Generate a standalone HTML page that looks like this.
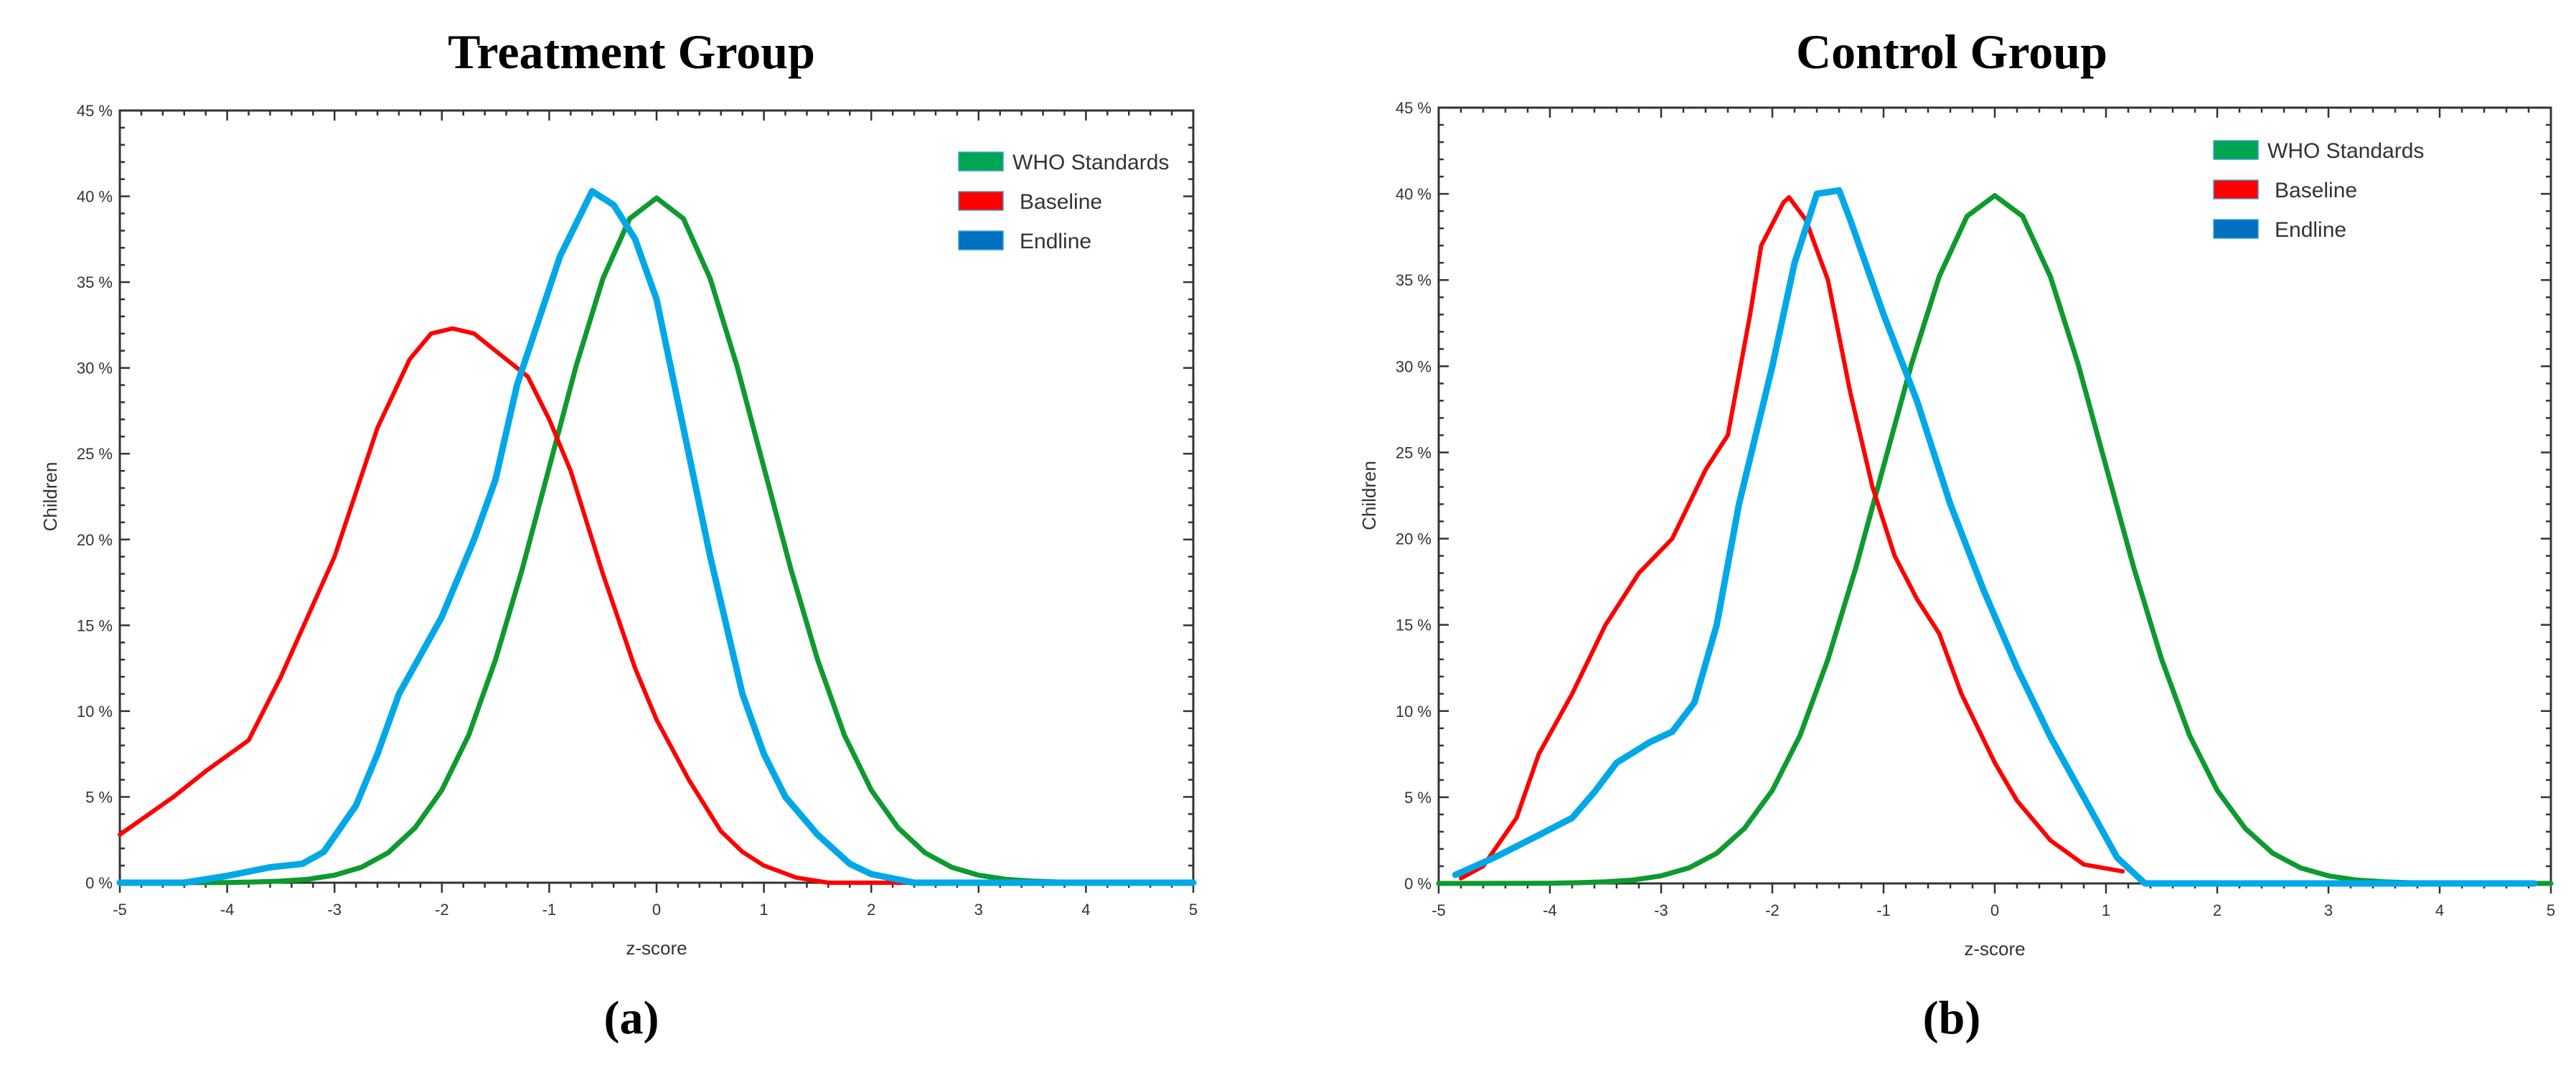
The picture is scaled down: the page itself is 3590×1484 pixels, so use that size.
<!DOCTYPE html>
<html><head><meta charset="utf-8"><style>
html,body{margin:0;padding:0;background:#fff;}
svg{display:block;}
</style></head><body>
<svg id="fig" width="3590" height="1484" viewBox="0 0 3590 1484" xmlns="http://www.w3.org/2000/svg">
<text x="880" y="95" font-family="Liberation Serif, serif" font-weight="bold" font-size="68" text-anchor="middle">Treatment Group</text>
<text x="2720" y="95" font-family="Liberation Serif, serif" font-weight="bold" font-size="68" text-anchor="middle">Control Group</text>
<text x="880" y="1440" font-family="Liberation Serif, serif" font-weight="bold" font-size="66" text-anchor="middle">(a)</text>
<text x="2720" y="1440" font-family="Liberation Serif, serif" font-weight="bold" font-size="66" text-anchor="middle">(b)</text>
<g id="pa"></g>
<g id="pb"></g>
</svg>
<script>
const xTicks=[-5,-4,-3,-2,-1,0,1,2,3,4,5];
const yTicks=[0,5,10,15,20,25,30,35,40,45];
const legendLabels=["WHO Standards","Baseline","Endline"];
const whoX=[-5,-4,-3.75,-3.5,-3.25,-3,-2.75,-2.5,-2.25,-2,-1.75,-1.5,-1.25,-1,-0.75,-0.5,-0.25,0,0.25,0.5,0.75,1,1.25,1.5,1.75,2,2.25,2.5,2.75,3,3.25,3.5,3.75,4,5];
const whoY=[0,0.01,0.04,0.09,0.2,0.44,0.9,1.75,3.2,5.4,8.6,13.0,18.3,24.2,30.1,35.2,38.7,39.9,38.7,35.2,30.1,24.2,18.3,13.0,8.6,5.4,3.2,1.75,0.9,0.44,0.2,0.09,0.04,0.01,0];
const baseAX=[-5,-4.5,-4.2,-3.8,-3.5,-3,-2.6,-2.3,-2.1,-1.9,-1.7,-1.5,-1.2,-1,-0.8,-0.5,-0.2,0,0.3,0.6,0.8,1,1.3,1.6,5];
const baseAY=[2.8,5,6.5,8.3,12,19,26.5,30.5,32,32.3,32,31,29.5,27,24,18,12.5,9.5,6,3,1.8,1,0.3,0,0];
const endAX=[-5,-4.4,-4,-3.6,-3.3,-3.1,-2.8,-2.6,-2.4,-2,-1.7,-1.5,-1.3,-0.9,-0.6,-0.4,-0.2,0,0.2,0.5,0.8,1,1.2,1.5,1.8,2,2.4,5];
const endAY=[0,0,0.4,0.9,1.1,1.8,4.5,7.5,11,15.5,20,23.5,29,36.5,40.3,39.5,37.5,34,28,19,11,7.5,5,2.8,1.1,0.5,0,0];
const baseBX=[-4.8,-4.6,-4.3,-4.1,-3.8,-3.5,-3.2,-2.9,-2.6,-2.4,-2.2,-2.1,-1.9,-1.85,-1.7,-1.5,-1.3,-1.1,-0.9,-0.7,-0.5,-0.3,0,0.2,0.5,0.8,1.15];
const baseBY=[0.3,1,3.8,7.5,11,15,18,20,24,26,33,37,39.5,39.8,38.5,35,28.5,23,19,16.5,14.5,11,7,4.8,2.5,1.1,0.7];
const endBX=[-4.85,-4.5,-4.1,-3.8,-3.6,-3.4,-3.1,-2.9,-2.7,-2.5,-2.3,-2,-1.8,-1.6,-1.4,-1.3,-1,-0.7,-0.4,-0.1,0.2,0.5,0.8,1.1,1.35,4.85];
const endBY=[0.5,1.5,2.8,3.8,5.3,7,8.2,8.8,10.5,15,22,30,36,40,40.2,38.5,33,28,22,17,12.5,8.5,5,1.5,0,0];
const NS="http://www.w3.org/2000/svg";
function mk(tag,attrs,parent){const e=document.createElementNS(NS,tag);for(const k in attrs)e.setAttribute(k,attrs[k]);parent.appendChild(e);return e;}
function chart(g,L,R,T,B,series,lg){
  const sx=v=>L+(v+5)/10*(R-L), sy=v=>B-v/45*(B-T);
  const frame=mk('rect',{x:L,y:T,width:R-L,height:B-T,fill:'none',stroke:'#333','stroke-width':3},g);
  
  
  for(let i=0;i<=50;i++){const v=-5+i*0.2;const len=(i%5==0)?14:7;const x=sx(v);
    const t1=mk('line',{x1:x,y1:B,x2:x,y2:B+len,stroke:'#333','stroke-width':2.5},g);
    
    const t2=mk('line',{x1:x,y1:T,x2:x,y2:T+len,stroke:'#333','stroke-width':2.5},g);
    }
  for(let i=0;i<=45;i++){const y=sy(i);const len=(i%5==0)?14:7;
    const t1=mk('line',{x1:L,y1:y,x2:L+len,y2:y,stroke:'#333','stroke-width':2.5},g);
    
    const t2=mk('line',{x1:R,y1:y,x2:R-len,y2:y,stroke:'#333','stroke-width':2.5},g);
    }
  xTicks.forEach(v=>{const t=mk('text',{x:sx(v),y:B+45,'font-family':'Liberation Sans, sans-serif','font-size':22,fill:'#333','text-anchor':'middle'},g);t.textContent=v;
    });
  yTicks.forEach(v=>{const t=mk('text',{x:L-10,y:sy(v)+8,'font-family':'Liberation Sans, sans-serif','font-size':22,fill:'#333','text-anchor':'end'},g);t.textContent=v+' %';
    });
  const xt=mk('text',{x:(L+R)/2,y:B+100,'font-family':'Liberation Sans, sans-serif','font-size':26,fill:'#333','text-anchor':'middle'},g);xt.textContent='z-score';
  
  const yt=mk('text',{x:0,y:0,'font-family':'Liberation Sans, sans-serif','font-size':26,fill:'#333','text-anchor':'middle',transform:`translate(${L-88},${(T+B)/2}) rotate(-90)`},g);yt.textContent='Children';
  
  series.forEach(s=>{const d=s.x.map((v,i)=>(i?'L':'M')+sx(v).toFixed(1)+' '+sy(s.y[i]).toFixed(1)).join(' ');
    const p=mk('path',{d:d,fill:'none',stroke:s.c,'stroke-width':s.w,'stroke-linejoin':'round','stroke-linecap':'round'},g);
    });
  const cols=['#00a651','#ff0000','#0070c0'];
  legendLabels.forEach((lab,i)=>{const y=lg.y+i*55;
    const r=mk('rect',{x:lg.x,y:y,width:62,height:26,fill:cols[i],stroke:'#3aa0d8','stroke-width':1.5},g);
    
    const t=mk('text',{x:lg.x+(i?85:75),y:y+24,'font-family':'Liberation Sans, sans-serif','font-size':30,fill:'#333'},g);t.textContent=lab;
    });
}
chart(document.getElementById('pa'),167,1663,154,1230,[
  {x:whoX,y:whoY,c:'#0e9a2e',w:7,n:'who-standards-line'},
  {x:baseAX,y:baseAY,c:'#ff0000',w:6,n:'baseline-line'},
  {x:endAX,y:endAY,c:'#00a8e8',w:9,n:'endline-line'}],{x:1336,y:212});
chart(document.getElementById('pb'),2005,3555,150,1231,[
  {x:whoX,y:whoY,c:'#0e9a2e',w:7,n:'who-standards-line'},
  {x:baseBX,y:baseBY,c:'#ff0000',w:6,n:'baseline-line'},
  {x:endBX,y:endBY,c:'#00a8e8',w:9,n:'endline-line'}],{x:3085,y:196});
</script>
</body></html>
